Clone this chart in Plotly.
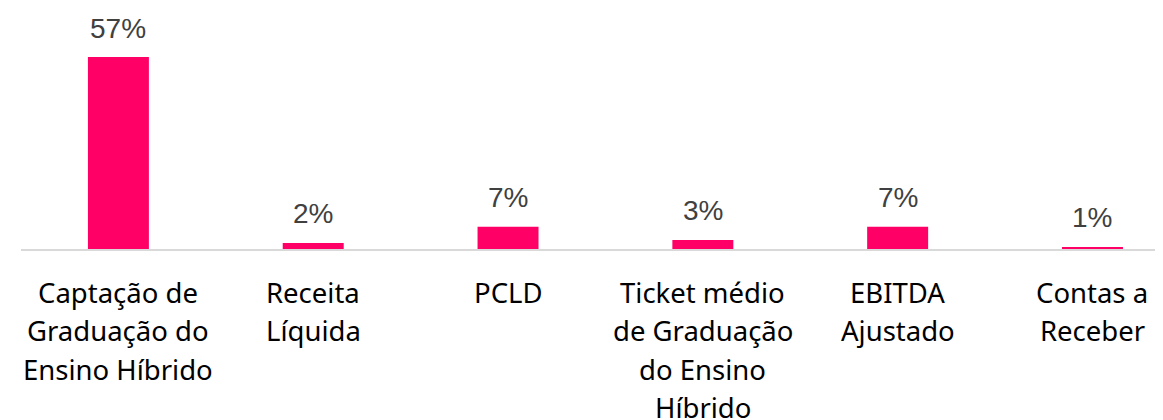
import plotly.graph_objects as go

# Data
category_lines = [
    ["Captação de", "Graduação do", "Ensino Híbrido"],
    ["Receita", "Líquida"],
    ["PCLD"],
    ["Ticket médio", "de Graduação", "do Ensino", "Híbrido"],
    ["EBITDA", "Ajustado"],
    ["Contas a", "Receber"],
]
categories = [" ".join(l) for l in category_lines]
values = [57, 1.8, 6.6, 2.7, 6.6, 0.6]
value_labels = ["57%", "2%", "7%", "3%", "7%", "1%"]

BAR_COLOR = "#FF0066"

fig = go.Figure()
fig.add_trace(go.Bar(
    x=categories, y=values,
    marker=dict(color=BAR_COLOR, line=dict(width=0)),
    hoverinfo="skip",
))

annotations = []
for cat, val, lab in zip(categories, values, value_labels):
    annotations.append(dict(
        x=cat, y=val, xref="x", yref="y", text=lab, showarrow=False,
        yanchor="middle", yshift=29,
        font=dict(family="Liberation Sans, Arial", size=28, color="#404040"),
    ))

line_step = 38.5
for cat, lines in zip(categories, category_lines):
    for i, ln in enumerate(lines):
        annotations.append(dict(
            x=cat, y=0, xref="x", yref="paper", text=ln, showarrow=False,
            yanchor="middle", yshift=-43 - line_step * i,
            font=dict(family="Noto Sans", size=27.5, color="#000000"),
        ))

# page body has an 8px margin, so the figure is sized to fit the window
fig.update_layout(
    width=1155, height=412,
    margin=dict(l=13, r=0, t=0, b=171),
    paper_bgcolor="white", plot_bgcolor="white",
    bargap=0.687,
    showlegend=False,
    annotations=annotations,
    xaxis=dict(
        type="category", range=[-0.5, 5.362],
        showticklabels=False, ticks="", showgrid=False, zeroline=False,
        showline=True, linecolor="#d9d9d9", linewidth=1.5,
    ),
    yaxis=dict(
        range=[0, 71.55], visible=False, showgrid=False, zeroline=False,
    ),
)

fig.write_html("out.html")
